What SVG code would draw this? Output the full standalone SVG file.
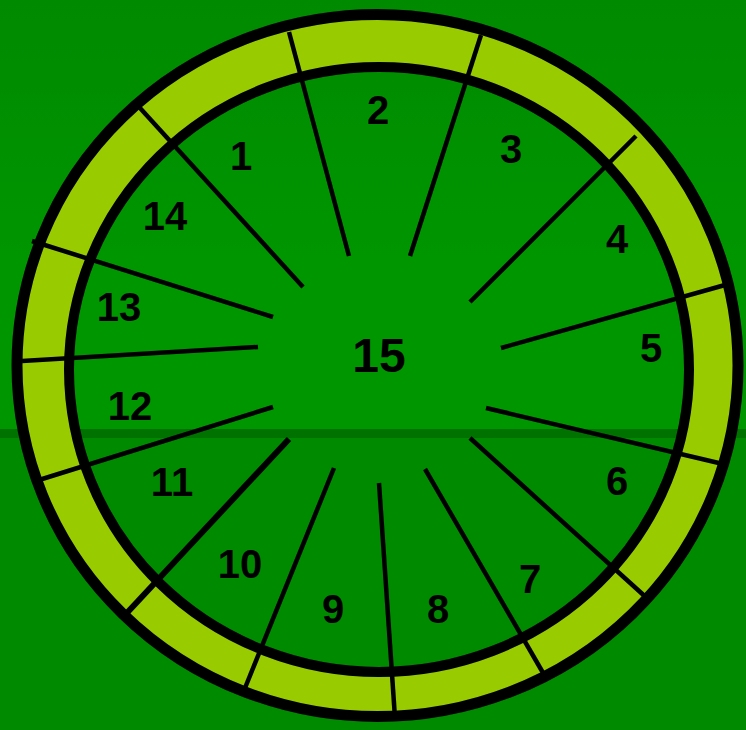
<svg xmlns="http://www.w3.org/2000/svg" width="746" height="730" viewBox="0 0 746 730">
<defs>
<linearGradient id="bg" x1="0" y1="0" x2="0" y2="1">
<stop offset="0" stop-color="#008a00"/>
<stop offset="0.6" stop-color="#009600"/>
<stop offset="1" stop-color="#009600"/>
</linearGradient>
<style>
.sp{stroke:#000;stroke-width:4.5;fill:none}
.lb{font-family:"Liberation Sans",Arial,sans-serif;font-weight:bold;font-size:40px;fill:#000;text-anchor:middle}
</style>
</defs>
<rect x="0" y="0" width="746" height="430" fill="url(#bg)"/>
<rect x="0" y="429" width="746" height="9" fill="#007200"/>
<rect x="0" y="438" width="746" height="292" fill="#008a00"/>
<g id="ring">
<path fill="#99cc00" fill-rule="evenodd" d="M17,365.5a360.5,351 0 1,0 721,0a360.5,351 0 1,0 -721,0Z M69,369.5a310,302.5 0 1,0 620,0a310,302.5 0 1,0 -620,0Z"/>
<ellipse cx="377.5" cy="365.5" rx="360.5" ry="351" fill="none" stroke="#000" stroke-width="11"/>
<ellipse cx="379" cy="369.5" rx="310" ry="302.5" fill="none" stroke="#000" stroke-width="10"/>
</g>
<g id="connectors">
<line class="sp" x1="349" y1="256" x2="289" y2="32"/>
<line class="sp" x1="410" y1="256" x2="481" y2="35"/>
<line class="sp" x1="470" y1="302" x2="636" y2="136"/>
<line class="sp" x1="501" y1="348" x2="725" y2="285"/>
<line class="sp" x1="486" y1="408" x2="723" y2="464"/>
<line class="sp" x1="470" y1="438" x2="649" y2="600"/>
<line class="sp" x1="425" y1="469" x2="546" y2="678"/>
<line class="sp" x1="379" y1="483" x2="395" y2="718"/>
<line class="sp" x1="334" y1="468" x2="243" y2="693"/>
<line class="sp" x1="289" y1="439" x2="125" y2="615" style="stroke-width:6"/>
<line class="sp" x1="273" y1="407" x2="39" y2="480"/>
<line class="sp" x1="258" y1="347" x2="22" y2="361"/>
<line class="sp" x1="273" y1="317" x2="32" y2="241"/>
<line class="sp" x1="303" y1="287" x2="140" y2="108"/>
</g>
<g id="n1"><text class="lb" x="241" y="170">1</text></g>
<g id="n2"><text class="lb" x="378" y="124">2</text></g>
<g id="n3"><text class="lb" x="511" y="163">3</text></g>
<g id="n4"><text class="lb" x="617" y="253">4</text></g>
<g id="n5"><text class="lb" x="651" y="362">5</text></g>
<g id="n6"><text class="lb" x="617" y="495">6</text></g>
<g id="n7"><text class="lb" x="530" y="593">7</text></g>
<g id="n8"><text class="lb" x="438" y="623">8</text></g>
<g id="n9"><text class="lb" x="333" y="623">9</text></g>
<g id="n10"><text class="lb" x="240" y="578">10</text></g>
<g id="n11"><text class="lb" x="172" y="496">11</text></g>
<g id="n12"><text class="lb" x="130" y="420">12</text></g>
<g id="n13"><text class="lb" x="119" y="321">13</text></g>
<g id="n14"><text class="lb" x="165" y="230">14</text></g>
<g id="n15"><text class="lb" x="379" y="372" style="font-size:48px">15</text></g>
</svg>
